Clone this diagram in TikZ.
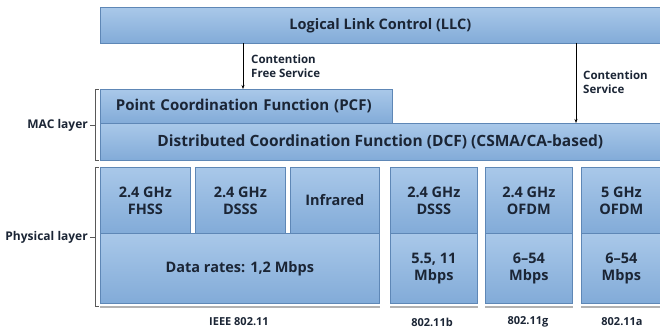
\documentclass[tikz,border=0pt]{standalone}
\usepackage{fontspec}
\setmainfont{Open Sans}
\usetikzlibrary{arrows.meta}
\definecolor{boxtop}{HTML}{A9C8E9}
\definecolor{boxbot}{HTML}{82ABD8}
\definecolor{boxedge}{HTML}{5E87B6}
\definecolor{txt}{HTML}{1B2535}
\tikzset{
  box/.style={anchor=north west, top color=boxtop, bottom color=boxbot, draw=boxedge,
    line width=0.7pt, inner sep=0pt, align=center, text=txt, font=\bfseries\fontsize{14.5}{17}\selectfont},
  lbl/.style={text=txt, font=\bfseries\fontsize{11.5}{13.5}\selectfont, inner sep=0pt},
  side/.style={lbl, font=\bfseries\fontsize{12}{14}\selectfont, anchor=east},
  foot/.style={lbl, font=\bfseries\fontsize{11}{13}\selectfont},
  conn/.style={black, line width=0.6pt, -{Stealth[length=4pt,width=3pt]}},
  brk/.style={gray!70!black, line width=0.6pt},
  base/.style={gray!60, line width=2pt}
}
\begin{document}
\begin{tikzpicture}[x=1pt,y=-1pt]
\useasboundingbox (0,0) rectangle (660,330);
% MAC
\node[box, minimum width=560, minimum height=36, font=\bfseries\fontsize{14.5}{17}\selectfont] (llc) at (100,7) {Logical Link Control (LLC)};
\node[box, minimum width=292, minimum height=34, text width=285, align=left, font=\bfseries\fontsize{15}{17}\selectfont] (pcf) at (100,89) {\hspace*{12pt}Point Coordination Function (PCF)};
\node[box, minimum width=560, minimum height=37, font=\bfseries\fontsize{15.5}{17}\selectfont] (dcf) at (100,123) {Distributed Coordination Function (DCF) (CSMA/CA-based)};
% Physical 802.11
\node[box, minimum width=90, minimum height=66] (fhss) at (100,167) {2.4 GHz\\FHSS};
\node[box, minimum width=90, minimum height=66] (dsss) at (195,167) {2.4 GHz\\DSSS};
\node[box, minimum width=89, minimum height=66] (ir) at (290,167) {Infrared};
\node[box, minimum width=279, minimum height=70] (r1) at (100,233) {Data rates: 1,2 Mbps};
% 802.11b
\node[box, minimum width=87, minimum height=66] (bt) at (390,167) {2.4 GHz\\DSSS};
\node[box, minimum width=87, minimum height=70] (bb) at (390,233) {5.5, 11\\Mbps};
% 802.11g
\node[box, minimum width=87, minimum height=66] (gt) at (485,167) {2.4 GHz\\OFDM};
\node[box, minimum width=87, minimum height=70] (gb) at (485,233) {6--54\\Mbps};
% 802.11a
\node[box, minimum width=80, minimum height=66] (at) at (581,167) {5 GHz\\OFDM};
\node[box, minimum width=80, minimum height=70] (ab) at (581,233) {6--54\\Mbps};
% base bars
\draw[base] ([yshift=-3pt]r1.south west) -- ([yshift=-3pt]r1.south east);
\draw[base] ([yshift=-3pt]bb.south west) -- ([yshift=-3pt]bb.south east);
\draw[base] ([yshift=-3pt]gb.south west) -- ([yshift=-3pt]gb.south east);
\draw[base] ([yshift=-3pt]ab.south west) -- ([yshift=-3pt]ab.south east);
% connectors
\coordinate (c1s) at (243,43);
\coordinate (c1e) at (243,89);
\coordinate (c2s) at (576,43);
\coordinate (c2e) at (576,123);
\draw[conn] (c1s) -- (c1e);
\draw[conn] (c2s) -- (c2e);
\node[lbl, anchor=west, align=left] (cfs) at (251,66) {Contention\\Free Service};
\node[lbl, anchor=west, align=left] (cs) at (583,82) {Contention\\Service};
% brackets
\coordinate (m1) at (95,89);
\coordinate (m2) at (95,160);
\coordinate (p1) at (95,167);
\coordinate (p2) at (95,306);
\draw[brk] (99,89) -- (m1) -- (m2) -- (99,160);
\draw[brk] (99,167) -- (p1) -- (p2) -- (99,306);
\draw[brk] (95,125) -- (90,125);
\draw[brk] (95,237) -- (90,237);
\node[side] (mac) at (88,125) {MAC layer};
\node[side] (phy) at (88,237) {Physical layer};
% bottom labels
\node[foot] (l1) at (239,322) {IEEE 802.11};
\node[foot] (l2) at (432,322) {802.11b};
\node[foot] (l3) at (528,322) {802.11g};
\node[foot] (l4) at (622,322) {802.11a};
\end{tikzpicture}
\end{document}
